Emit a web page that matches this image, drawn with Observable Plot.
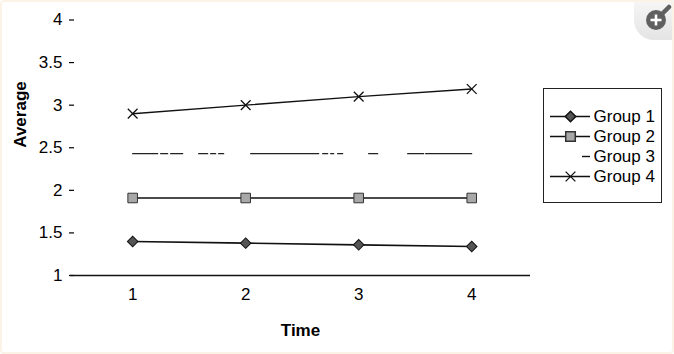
<!DOCTYPE html>
<html>
<head>
<meta charset="utf-8">
<script src="https://cdn.jsdelivr.net/npm/d3@7"></script>
<script src="https://cdn.jsdelivr.net/npm/@observablehq/plot@0.6"></script>
<style>
  html, body { margin: 0; padding: 0; background: #fff; }
  #wrap { position: relative; width: 674px; height: 354px; overflow: hidden; font-family: "Liberation Sans", Arial, sans-serif; }
  #frame { position: absolute; left: 0; top: 0; width: 670px; height: 350px; border: 2px solid #fbf3e6; border-radius: 4px; pointer-events: none; }
  #legend { position: absolute; left: 543px; top: 88px; border: 1px solid #222; background: #fff; }
  #zoomtab { position: absolute; left: 634px; top: -8px; width: 50px; height: 48px; border-radius: 0 0 0 20px; background: linear-gradient(#fafafa, #e4e4e4); }
</style>
</head>
<body>
<div id="wrap">
  <div id="chart"></div>
  <div id="legend"></div>
  <div id="zoomtab">
    <svg width="40" height="40" viewBox="0 0 40 40" style="position:absolute;left:8px;top:12px">
      <circle cx="14" cy="16" r="10" fill="#606060"/>
      <line x1="20" y1="10" x2="27" y2="3" stroke="#606060" stroke-width="4.5" stroke-linecap="round"/>
      <line x1="8.5" y1="16" x2="19.5" y2="16" stroke="#fff" stroke-width="2.6"/>
      <line x1="14" y1="10.5" x2="14" y2="21.5" stroke="#fff" stroke-width="2.6"/>
    </svg>
  </div>
  <div id="frame"></div>
</div>
<script>
const times = [1, 2, 3, 4];
const groups = ["Group 1", "Group 2", "Group 3", "Group 4"];
const group1 = [1.40, 1.38, 1.36, 1.34];
const group2 = [1.91, 1.91, 1.91, 1.91];
const group3 = [2.43, 2.43, 2.43, 2.43];
const group4 = [2.90, 3.00, 3.10, 3.19];
const yTicks = [1, 1.5, 2, 2.5, 3, 3.5, 4];
const yTickLabels = ["1", "1.5", "2", "2.5", "3", "3.5", "4"];
const xTickLabels = ["1", "2", "3", "4"];

const seriesValues = [group1, group2, group3, group4];
const rows = groups.flatMap((g, gi) => times.map((t, i) => ({group: g, time: t, value: seriesValues[gi][i]})));
const byGroup = g => rows.filter(d => d.group === g);

const font = "Liberation Sans, Arial, sans-serif";
const g3dash = "25,3,7,3,12,16,9,3,5,3,5,27,68,4,5,3,3,4,5,26,9,30,16,2,46,40";

const chart = Plot.plot({
  width: 674,
  height: 354,
  marginLeft: 70,
  marginRight: 144,
  marginTop: 19.5,
  marginBottom: 79,
  style: {fontFamily: font, fontSize: "17px", color: "#000", background: "transparent"},
  x: {domain: [0.45, 4.52], ticks: times, label: null},
  y: {domain: [1, 4], ticks: yTicks, label: null},
  marks: [
    Plot.axisY({ticks: yTicks, tickFormat: (d, i) => yTickLabels[i], tickSize: 5, tickPadding: 7, dx: 4, strokeWidth: 1.2, fontSize: 17}),
    Plot.axisX({ticks: times, tickFormat: (d, i) => xTickLabels[i], tickSize: 0, tickPadding: 12, fontSize: 17}),
    Plot.ruleY([1], {stroke: "#111", strokeWidth: 1.6}),
    Plot.text(["Average"], {frameAnchor: "left", rotate: -90, dx: -50, fontWeight: "bold", fontSize: 17}),
    Plot.text(["Time"], {frameAnchor: "bottom", dy: 60, fontWeight: "bold", fontSize: 17}),
    Plot.line(byGroup("Group 4"), {x: "time", y: "value", stroke: "#111", strokeWidth: 1.4}),
    Plot.dot(byGroup("Group 4"), {x: "time", y: "value", symbol: "times", r: 4.5, stroke: "#111", strokeWidth: 1.3}),
    Plot.line(byGroup("Group 3"), {x: "time", y: "value", stroke: "#222", strokeWidth: 1.3, strokeDasharray: g3dash}),
    Plot.line(byGroup("Group 2"), {x: "time", y: "value", stroke: "#111", strokeWidth: 1.4}),
    Plot.dot(byGroup("Group 2"), {x: "time", y: "value", symbol: "square", r: 5.4, fill: "#a8a8a8", stroke: "#333", strokeWidth: 1}),
    Plot.line(byGroup("Group 1"), {x: "time", y: "value", stroke: "#111", strokeWidth: 1.6}),
    Plot.dot(byGroup("Group 1"), {x: "time", y: "value", symbol: "square", rotate: 45, r: 4.2, fill: "#555", stroke: "#111", strokeWidth: 1})
  ]
});
document.getElementById("chart").append(chart);

// Legend
const legRows = groups.map(g => ({group: g}));
const legend = Plot.plot({
  width: 117,
  height: 113,
  margin: 0,
  style: {fontFamily: font, fontSize: "16px", color: "#000", background: "transparent"},
  x: {domain: [0, 1], range: [6, 46], axis: null},
  y: {type: "point", domain: groups, range: [15, 98], axis: null},
  marks: [
    Plot.ruleY([legRows[0], legRows[1], legRows[3]], {y: "group", x1: 0, x2: 1, stroke: "#111", strokeWidth: 1.4}),
    Plot.ruleY([legRows[2]], {y: "group", x1: 0.8, x2: 1, stroke: "#111", strokeWidth: 1.4}),
    Plot.dot([legRows[0]], {x: 0.5, y: "group", symbol: "square", rotate: 45, r: 4.2, fill: "#555", stroke: "#111"}),
    Plot.dot([legRows[1]], {x: 0.5, y: "group", symbol: "square", r: 5.4, fill: "#a8a8a8", stroke: "#333"}),
    Plot.dot([legRows[3]], {x: 0.5, y: "group", symbol: "times", r: 4.5, stroke: "#111", strokeWidth: 1.3}),
    Plot.text(legRows, {x: 1, y: "group", text: "group", textAnchor: "start", dx: 3, fontSize: 17})
  ]
});
document.getElementById("legend").append(legend);
</script>
</body>
</html>
